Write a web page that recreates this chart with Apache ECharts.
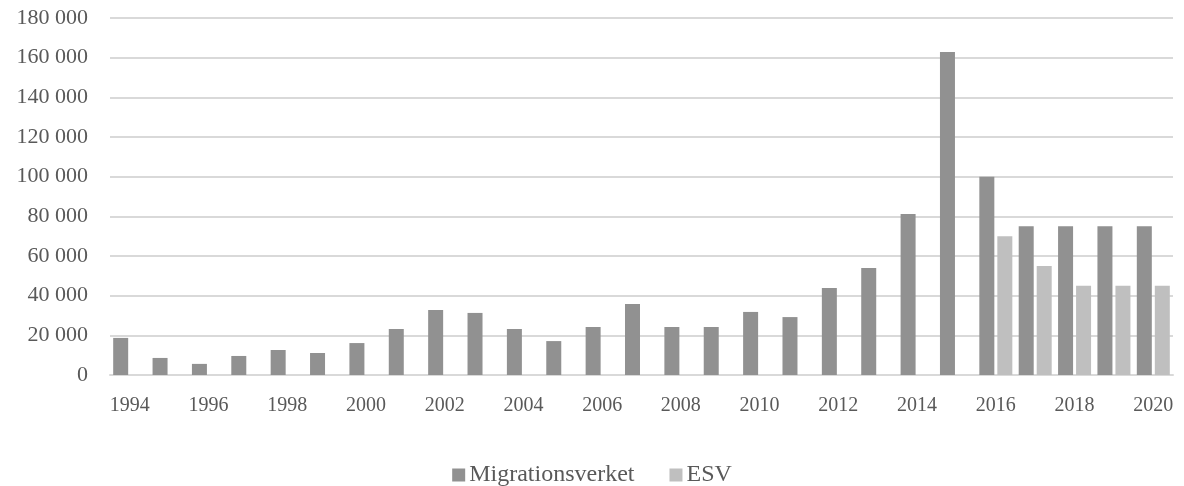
<!DOCTYPE html>
<html>
<head>
<meta charset="utf-8">
<script src="https://cdn.jsdelivr.net/npm/echarts@6/dist/echarts.min.js"></script>
<style>
html,body{margin:0;padding:0;background:#fff;}
#chart{width:1184px;height:486px;}
</style>
</head>
<body>
<div id="chart"></div>
<script>
const years = ['1994','1995','1996','1997','1998','1999','2000','2001','2002','2003','2004','2005','2006','2007','2008','2009','2010','2011','2012','2013','2014','2015','2016','2017','2018','2019','2020'];
const migrationsverket = [18700, 8600, 5600, 9600, 12600, 11100, 16100, 23200, 32800, 31300, 23200, 17100, 24200, 35800, 24200, 24200, 31800, 29200, 43900, 53900, 81200, 162900, 100000, 75000, 75000, 75000, 75000];
const esv = [null, null, null, null, null, null, null, null, null, null, null, null, null, null, null, null, null, null, null, null, null, null, 70000, 55000, 45000, 45000, 45000];
const seriesNames = ['Migrationsverket', 'ESV'];

const chart = echarts.init(document.getElementById('chart'));
const fmt = v => String(v).replace(/\B(?=(\d{3})+(?!\d))/g, ' ');
chart.setOption({
  animation: false,
  textStyle: { fontFamily: 'Liberation Serif' },
  grid: { left: 110, right: 11, top: 18, bottom: 111, containLabel: false },
  legend: {
    data: seriesNames,
    top: 458,
    left: 'center',
    itemWidth: 13,
    itemHeight: 13,
    itemGap: 35,
    icon: 'rect',
    textStyle: { fontFamily: 'Liberation Serif', fontSize: 24, color: '#595959', padding: [0, 0, 0, -1] }
  },
  xAxis: {
    type: 'category',
    data: years,
    axisTick: { show: false },
    axisLine: { lineStyle: { color: '#d9d9d9', width: 2 } },
    axisLabel: { interval: 1, fontFamily: 'Liberation Serif', fontSize: 20, color: '#595959', margin: 21 }
  },
  yAxis: {
    type: 'value',
    min: 0, max: 180000, interval: 20000,
    axisLine: { show: false },
    axisTick: { show: false },
    splitLine: { lineStyle: { color: '#d9d9d9', width: 2 } },
    axisLabel: { fontFamily: 'Liberation Serif', fontSize: 22, color: '#595959', margin: 22, padding: [8, 0, 0, 0], formatter: fmt }
  },
  series: [
    { name: seriesNames[0], type: 'bar', data: migrationsverket, barWidth: 15, barGap: '20%', itemStyle: { color: '#919191' } },
    { name: seriesNames[1], type: 'bar', data: esv, barWidth: 15, itemStyle: { color: '#bfbfbf' } }
  ]
});
</script>
</body>
</html>
